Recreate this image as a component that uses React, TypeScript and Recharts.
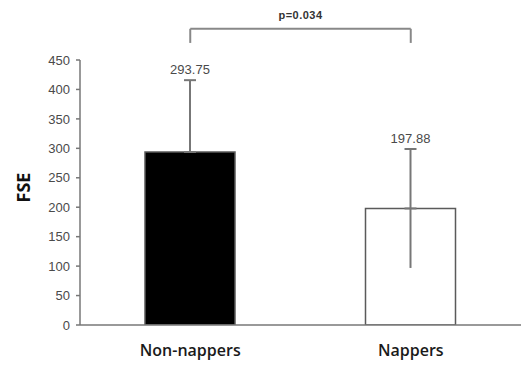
import {
  Bar,
  BarChart,
  Cell,
  ErrorBar,
  LabelList,
  ReferenceLine,
  XAxis,
  YAxis,
} from "recharts"

const groups = ["Non-nappers", "Nappers"]
const means = [293.75, 197.88]
// upper / lower whiskers; the lower one of the black bar is hidden behind the fill
const sdUp = [122, 101]
const sdDown = [0, 101]
const yTicks = [0, 50, 100, 150, 200, 250, 300, 350, 400, 450]
const fills = ["#000000", "#ffffff"]
const pValue = "p=0.034"
const bracketTop = 503
const bracketFoot = 479

const data = groups.map((name, i) => ({
  name,
  mean: means[i],
  errUp: [0, sdUp[i]],
  errDown: [sdDown[i], 0],
}))

const axisColor = "#777777"
const tickFont = { fontFamily: "'Liberation Sans', Arial, sans-serif", fontSize: 13, fill: "#4a4a4a" }

function ValueLabel(props: any) {
  const { x, y, width, height, value, index } = props
  const i = typeof index === "number" ? index : means.indexOf(value)
  const pxPerUnit = height / value
  const top = y - sdUp[i] * pxPerUnit
  return (
    <text
      x={x + width / 2}
      y={top - 6}
      textAnchor="middle"
      style={tickFont}
    >
      {Number(value).toFixed(2)}
    </text>
  )
}

function YTitle(props: any) {
  const { viewBox } = props
  const cx = viewBox.x + 30
  const cy = viewBox.y + viewBox.height / 2 - 5
  return (
    <text
      x={cx}
      y={cy}
      textAnchor="middle"
      transform={`rotate(-90, ${cx}, ${cy})`}
      style={{ fontFamily: "'Open Sans', sans-serif", fontWeight: 700, fontSize: 18, fill: "#111" }}
    >
      FSE
    </text>
  )
}

export default function App() {
  return (
    <div style={{ position: "absolute", left: 0, top: 0, background: "#fff" }}>
      <BarChart
        width={521}
        height={365}
        data={data}
        margin={{ top: 60, right: 0, bottom: 0, left: 0 }}
        barSize={90}
      >
        <XAxis
          dataKey="name"
          height={40}
          stroke={axisColor}
          strokeWidth={1.5}
          tickLine={false}
          tickMargin={14}
          tick={{ fontFamily: "'Open Sans', sans-serif", fontWeight: 600, fontSize: 16, fill: "#1a1a1a" }}
        />
        <YAxis
          width={80}
          domain={[0, 450]}
          ticks={yTicks}
          allowDataOverflow
          stroke={axisColor}
          strokeWidth={1.5}
          tickSize={4}
          tickMargin={6}
          tick={tickFont}
          label={<YTitle />}
        />
        <ReferenceLine
          segment={[
            { x: groups[0], y: bracketTop },
            { x: groups[1], y: bracketTop },
          ]}
          ifOverflow="visible"
          stroke="#888"
          strokeWidth={2}
          label={{
            value: pValue,
            position: "top",
            offset: 10,
            style: {
              fontFamily: "'Liberation Sans', Arial, sans-serif",
              fontWeight: 700,
              fontSize: 11,
              letterSpacing: 0.5,
              fill: "#333",
            },
          }}
        />
        <ReferenceLine
          segment={[
            { x: groups[0], y: bracketTop },
            { x: groups[0], y: bracketFoot },
          ]}
          ifOverflow="visible"
          stroke="#888"
          strokeWidth={2}
        />
        <ReferenceLine
          segment={[
            { x: groups[1], y: bracketTop },
            { x: groups[1], y: bracketFoot },
          ]}
          ifOverflow="visible"
          stroke="#888"
          strokeWidth={2}
        />
        <Bar dataKey="mean" stroke="#5a5a5a" strokeWidth={1.5} isAnimationActive={false}>
          {data.map((d, i) => (
            <Cell key={d.name} fill={fills[i]} />
          ))}
          <ErrorBar dataKey="errUp" direction="y" width={6} stroke={axisColor} strokeWidth={2} />
          <ErrorBar dataKey="errDown" direction="y" width={0} stroke={axisColor} strokeWidth={2} />
          <LabelList dataKey="mean" content={<ValueLabel />} />
        </Bar>
      </BarChart>
    </div>
  )
}
